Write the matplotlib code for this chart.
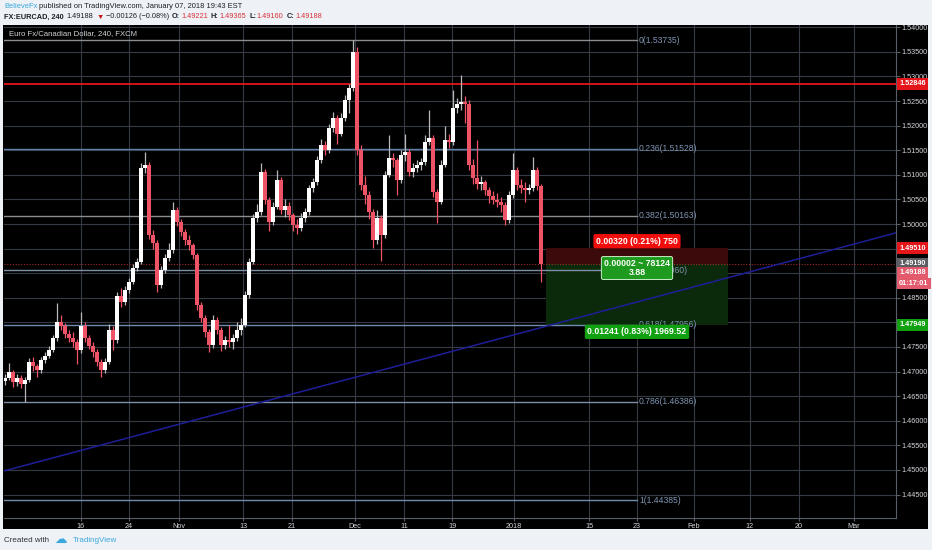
import numpy as np
import matplotlib
matplotlib.use('Agg')
import matplotlib.pyplot as plt
from matplotlib.patches import Rectangle
import matplotlib.transforms as mtransforms

plt.rcParams['font.family'] = ['Liberation Sans', 'DejaVu Sans']

# ---------------- data ----------------
first_open = 1.4680
closes = [1.4687, 1.4699, 1.4679, 1.4687, 1.4675, 1.4683, 1.4720, 1.4711, 1.4703, 1.4724,
          1.4732, 1.4744, 1.4768, 1.4801, 1.4793, 1.4776, 1.4768, 1.4760, 1.4744, 1.4793,
          1.4768, 1.4752, 1.4740, 1.4720, 1.4703, 1.4720, 1.4785, 1.4764, 1.4854, 1.4841,
          1.4866, 1.4882, 1.4911, 1.4923, 1.5114, 1.5120, 1.4978, 1.4961, 1.4876, 1.4907,
          1.4931, 1.4947, 1.5028, 1.5004, 1.4984, 1.4967, 1.4957, 1.4937, 1.4835, 1.4809,
          1.4780, 1.4754, 1.4805, 1.4785, 1.4754, 1.4764, 1.4760, 1.4768, 1.4785, 1.4795,
          1.4856, 1.4923, 1.5012, 1.5024, 1.5106, 1.5049, 1.5004, 1.5035, 1.5089, 1.5028,
          1.5037, 1.5018, 1.4998, 1.4992, 1.5012, 1.5024, 1.5073, 1.5085, 1.5130, 1.5161,
          1.5150, 1.5195, 1.5215, 1.5183, 1.5215, 1.5252, 1.5276, 1.5350, 1.5150, 1.5079,
          1.5059, 1.5024, 1.4967, 1.5012, 1.4978, 1.5100, 1.5134, 1.5130, 1.5089, 1.5140,
          1.5146, 1.5106, 1.5114, 1.5120, 1.5126, 1.5167, 1.5175, 1.5065, 1.5045, 1.5120,
          1.5171, 1.5167, 1.5236, 1.5244, 1.5248, 1.5244, 1.5120, 1.5093, 1.5081, 1.5085,
          1.5069, 1.5057, 1.5049, 1.5045, 1.5039, 1.5008, 1.5059, 1.5110, 1.5079, 1.5073,
          1.5069, 1.5073, 1.5110, 1.5077, 1.49188]
highs = [1.4696, 1.4717, 1.4703, 1.4695, 1.4693, 1.4690, 1.4728, 1.4730, 1.4716, 1.4730,
         1.4740, 1.4752, 1.4775, 1.4839, 1.4815, 1.4798, 1.4785, 1.4780, 1.4766, 1.4822,
         1.4800, 1.4775, 1.4760, 1.4746, 1.4726, 1.4728, 1.4796, 1.4792, 1.4862, 1.4870,
         1.4873, 1.4890, 1.4918, 1.4930, 1.5125, 1.5146, 1.5126, 1.4988, 1.4968, 1.4915,
         1.4940, 1.4962, 1.5045, 1.5034, 1.5010, 1.4990, 1.4978, 1.4962, 1.4942, 1.4842,
         1.4815, 1.4786, 1.4815, 1.4810, 1.4790, 1.4772, 1.4795, 1.4776, 1.4800, 1.4808,
         1.4864, 1.4930, 1.5020, 1.5040, 1.5124, 1.5112, 1.5055, 1.5045, 1.5110, 1.5095,
         1.5050, 1.5045, 1.5022, 1.5010, 1.5022, 1.5032, 1.5080, 1.5094, 1.5138, 1.5172,
         1.5168, 1.5203, 1.5228, 1.5222, 1.5225, 1.5262, 1.5285, 1.5374, 1.5360, 1.5160,
         1.5098, 1.5068, 1.5030, 1.5028, 1.5018, 1.5108, 1.5180, 1.5145, 1.5135, 1.5150,
         1.5182, 1.5152, 1.5125, 1.5130, 1.5135, 1.5180, 1.5232, 1.5180, 1.5072, 1.5130,
         1.5200, 1.5182, 1.5272, 1.5256, 1.5303, 1.5260, 1.5252, 1.5132, 1.5171, 1.5098,
         1.5090, 1.5075, 1.5068, 1.5062, 1.5055, 1.5044, 1.5068, 1.5144, 1.5115, 1.5092,
         1.5085, 1.5082, 1.5136, 1.5115, 1.5082]
lows = [1.4672, 1.4682, 1.4668, 1.4670, 1.4666, 1.4638, 1.4678, 1.4702, 1.4690, 1.4698,
        1.4718, 1.4728, 1.4740, 1.4762, 1.4785, 1.4768, 1.4760, 1.4750, 1.4715, 1.4738,
        1.4760, 1.4745, 1.4730, 1.4712, 1.4690, 1.4698, 1.4716, 1.4744, 1.4758, 1.4832,
        1.4836, 1.4860, 1.4878, 1.4905, 1.4918, 1.5104, 1.4970, 1.4950, 1.4862, 1.4870,
        1.4900, 1.4925, 1.4942, 1.4996, 1.4975, 1.4958, 1.4948, 1.4928, 1.4826, 1.4800,
        1.4770, 1.4740, 1.4748, 1.4776, 1.4742, 1.4746, 1.4750, 1.4745, 1.4762, 1.4775,
        1.4790, 1.4850, 1.4918, 1.5005, 1.5018, 1.5040, 1.4985, 1.4998, 1.5030, 1.5020,
        1.5015, 1.5008, 1.4985, 1.4980, 1.4985, 1.5005, 1.5018, 1.5065, 1.5080, 1.5125,
        1.5140, 1.5145, 1.5188, 1.5162, 1.5178, 1.5210, 1.5226, 1.5270, 1.5140, 1.5070,
        1.5040, 1.5010, 1.4951, 1.4960, 1.4925, 1.4972, 1.5095, 1.5115, 1.5058, 1.5084,
        1.5128, 1.5098, 1.5095, 1.5105, 1.5110, 1.5120, 1.5160, 1.5055, 1.5002, 1.5040,
        1.5115, 1.5155, 1.5160, 1.5225, 1.5232, 1.5205, 1.5110, 1.5082, 1.5072, 1.5070,
        1.5058, 1.5042, 1.5040, 1.5035, 1.5025, 1.4998, 1.5002, 1.5052, 1.5070, 1.5062,
        1.5045, 1.5060, 1.5068, 1.5070, 1.4882]

# time axis in trading days (0 = Oct 16, 2017); one candle per half day
bar_start = -9.5
bar_step = 0.5
date_ticks = [0, 6, 12.25, 20.25, 26.4, 34.25, 40.4, 46.4, 54.1, 63.5, 69.5, 76.6, 83.6, 89.75, 96.6]
date_labels = ['16', '24', 'Nov', '13', '21', 'Dec', '11', '19', '2018', '15', '23', 'Feb', '12', '20', 'Mar']
price_ticks = [1.445, 1.450, 1.455, 1.460, 1.465, 1.470, 1.475, 1.480, 1.485, 1.490,
               1.495, 1.500, 1.505, 1.510, 1.515, 1.520, 1.525, 1.530, 1.535, 1.540]
hidden_ticks = [1.480, 1.490, 1.495]   # covered by the coloured price tags

fib_ratios = [0, 0.236, 0.382, 0.5, 0.618, 0.786, 1]
fib_prices = [1.53735, 1.51528, 1.50163, 1.49060, 1.47956, 1.46386, 1.44385]
fib_end = 69.5
resistance = 1.52846
trend_x = [-9.625, 101.875]
trend_y = [1.4498, 1.4982]
entry_price = 1.49190
stop_price = 1.49510
target_price = 1.47949
box_start, box_end = 58.1, 80.9
stop_text = '0.00320 (0.21%) 750'
mid_text = '0.00002 ~ 78124\n3.88'
target_text = '0.01241 (0.83%) 1969.52'
countdown = '01:17:01'

x_min, x_max = -9.625, 101.875
y_min, y_max = 1.44024, 1.54045

# ---------------- figure ----------------
W, H = 932, 550
fig = plt.figure(figsize=(W / 100, H / 100), dpi=100)
fig.patch.set_facecolor('#eef1f6')

# black panel (chart + axes strips)
panel = Rectangle((3 / W, 1 - 529 / H), 925 / W, 504 / H,
                  transform=fig.transFigure, facecolor='black',
                  edgecolor='none', zorder=-10)
fig.patches.append(panel)

ax = fig.add_axes([4 / W, 1 - 518 / H, 892 / W, 493 / H])
ax.set_zorder(1)
ax.set_facecolor('black')
ax.set_xlim(x_min, x_max)
ax.set_ylim(y_min, y_max)

for s in ['top', 'left']:
    ax.spines[s].set_visible(False)
for s in ['right', 'bottom']:
    ax.spines[s].set_color('#5a5e66')
    ax.spines[s].set_linewidth(0.8)

ax.yaxis.tick_right()
ax.set_yticks(price_ticks)
ax.set_yticklabels(['' if any(abs(p - h) < 1e-9 for h in hidden_ticks) else '%.5f' % p
                    for p in price_ticks])
ax.set_xticks(date_ticks)
ax.set_xticklabels(date_labels)
ax.tick_params(axis='y', labelcolor='#d2d5da', labelsize=5.2, length=3,
               color='#5a5e66', pad=1.2)
ax.tick_params(axis='x', labelcolor='#d2d5da', labelsize=5.2, length=2,
               color='#5a5e66', pad=1.5)
ax.grid(True, color='#363a44', linewidth=0.8, zorder=0)
ax.set_axisbelow(True)

# candles
closes_a = np.array(closes)
opens_a = np.array([first_open] + closes[:-1])
highs_a = np.array(highs)
lows_a = np.array(lows)
xs = bar_start + bar_step * np.arange(len(closes_a))
up = closes_a >= opens_a
dn = ~up
body_lo = np.minimum(opens_a, closes_a)
body_h = np.maximum(np.abs(closes_a - opens_a), 0.0001)
red = '#ef5466'
ax.vlines(xs[up], lows_a[up], highs_a[up], color='#b8b8b8', linewidth=0.9, zorder=4)
ax.vlines(xs[dn], lows_a[dn], highs_a[dn], color=red, linewidth=0.9, zorder=4)
ax.bar(xs[up], body_h[up], bottom=body_lo[up], width=0.42, color='white',
       linewidth=0, zorder=5)
ax.bar(xs[dn], body_h[dn], bottom=body_lo[dn], width=0.42, color=red,
       linewidth=0, zorder=5)

# last price dotted line
ax.axhline(closes_a[-1], color='#a02828', linewidth=0.8, linestyle=(0, (1, 1.5)), zorder=3)

# fib levels
fib_colors = ['#8a8c90', '#5f82aa', '#8a8c90', '#7d8ea6', '#6f8cad', '#7d8ea6', '#6f8cad']
for r, p, c in zip(fib_ratios, fib_prices, fib_colors):
    ax.plot([x_min, fib_end], [p, p], color=c, linewidth=1.0, zorder=2)
    lab = ('%g' % r) + '(%.5f)' % p
    ax.text(fib_end + 0.25, p, lab, color='#7f95b3', fontsize=6.2,
            ha='left', va='center', zorder=6)

# resistance line
ax.axhline(resistance, color='#e4161a', linewidth=1.3, zorder=3)

# trendline
ax.plot(trend_x, trend_y, color='#1e1e98', linewidth=1.1, zorder=3)

# position tool boxes
ax.add_patch(Rectangle((box_start, entry_price), box_end - box_start, stop_price - entry_price,
                       facecolor='#3c0a0a', edgecolor='none', zorder=1))
ax.add_patch(Rectangle((box_start, target_price), box_end - box_start, entry_price - target_price,
                       facecolor='#0b2a0b', edgecolor='none', zorder=1))
bx_mid = (box_start + box_end) / 2
ax.annotate(stop_text, (bx_mid, stop_price), xytext=(0, 5), textcoords='offset points',
            ha='center', va='center', fontsize=6.3, color='white', fontweight='bold', zorder=8,
            bbox=dict(boxstyle='round,pad=0.3,rounding_size=0.2', fc='#f20d0d', ec='none'))
ax.annotate(mid_text, (bx_mid, entry_price), xytext=(0, -3), textcoords='offset points',
            ha='center', va='center', fontsize=6.3, color='white', fontweight='bold', zorder=8,
            linespacing=0.95,
            bbox=dict(boxstyle='round,pad=0.3,rounding_size=0.2', fc='#1e9a1e', ec='#c8f0c8', lw=0.7))
ax.annotate(target_text, (bx_mid, target_price), xytext=(0, -5), textcoords='offset points',
            ha='center', va='center', fontsize=6.3, color='white', fontweight='bold', zorder=8,
            bbox=dict(boxstyle='round,pad=0.3,rounding_size=0.2', fc='#10a010', ec='none'))

# price axis labels
trans = mtransforms.blended_transform_factory(ax.transAxes, ax.transData)


def axis_label(price, text, fc, dy=0):
    ax.annotate(text, (1.0, price), xycoords=trans, xytext=(2.2, dy), textcoords='offset points',
                ha='left', va='center', fontsize=5.2, color='white', fontweight='bold',
                annotation_clip=False, zorder=10,
                bbox=dict(boxstyle='square,pad=0.3', fc=fc, ec='none'))


axis_label(resistance, '%.5f' % resistance, '#e4161a')
axis_label(stop_price, '%.5f' % stop_price, '#e4161a')
axis_label(entry_price, '%.5f' % entry_price, '#5b5d62')
axis_label(closes_a[-1], '%.5f' % closes_a[-1], '#e25a6c', dy=-6)
axis_label(closes_a[-1], countdown, '#e25a6c', dy=-14)
axis_label(target_price, '%.5f' % target_price, '#10a010')

# symbol title inside chart
ax.text(5 / 892, 1 - 9 / 493, 'Euro Fx/Canadian Dollar, 240, FXCM', color='#d0d2d6',
        fontsize=5.6, ha='left', va='center', transform=ax.transAxes, zorder=10)

# ---------------- header ----------------
renderer = fig.canvas.get_renderer()


def draw_seq(x_px, y_px, parts, size):
    x = x_px
    for s, color, weight, gap in parts:
        t = fig.text(x / W, 1 - y_px / H, s, color=color, fontweight=weight,
                     fontsize=size, ha='left', va='center')
        bb = t.get_window_extent(renderer)
        x += bb.width + gap


dark = '#1c1f26'
hred = '#d8343a'
draw_seq(4, 6.5, [('BelieveFx', '#3aa8dc', 'normal', 1.5),
                  ('published on TradingView.com, January 07, 2018 19:43 EST', dark, 'normal', 0)], 5.4)
draw_seq(4, 17, [('FX:EURCAD, 240', dark, 'bold', 3),
                 ('%.5f' % closes_a[-1], dark, 'normal', 3),
                 ('\u25BC', '#c0161c', 'normal', 2.5),
                 ('\u22120.00126 (\u22120.08%)', dark, 'normal', 3),
                 ('O:', dark, 'bold', 0.8),
                 ('1.49221', hred, 'normal', 3),
                 ('H:', dark, 'bold', 0.8),
                 ('1.49365', hred, 'normal', 3),
                 ('L:', dark, 'bold', 0.8),
                 ('1.49160', hred, 'normal', 3),
                 ('C:', dark, 'bold', 0.8),
                 ('%.5f' % closes_a[-1], hred, 'normal', 0)], 5.3)

# ---------------- footer ----------------
fig.text(4 / W, 1 - 540 / H, 'Created with', color='#30343c', fontsize=5.8,
         ha='left', va='center')
fig.text(54 / W, 1 - 539 / H, '\u2601', color='#3aa8dc', fontsize=9,
         ha='left', va='center', family='DejaVu Sans')
fig.text(73 / W, 1 - 540 / H, 'TradingView', color='#3aa8dc', fontsize=5.8,
         ha='left', va='center')

fig.savefig('out.png', dpi=100, facecolor=fig.get_facecolor())
